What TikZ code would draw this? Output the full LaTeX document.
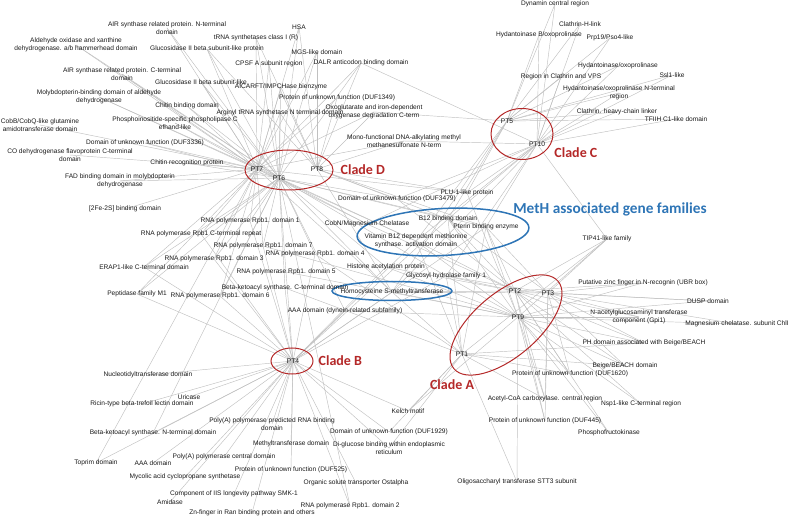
\documentclass[tikz,border=0pt]{standalone}
\usepackage{fontspec}
\setmainfont{Liberation Sans}
\newfontfamily\cladefont{Carlito}
\usetikzlibrary{shapes.geometric, positioning, backgrounds}
\definecolor{cladered}{RGB}{180,40,40}
\definecolor{methblue}{RGB}{46,117,182}
\definecolor{linkgray}{RGB}{192,192,192}
\begin{document}
\begin{tikzpicture}[x=1pt, y=-1pt,
  lab/.style={font=\fontsize{6.6}{7.6}\selectfont, align=center, inner sep=0pt, text=black!90},
  hub/.style={font=\fontsize{6.7}{7.6}\selectfont, inner sep=0pt, text=black!90},
  link/.style={draw=linkgray, line width=0.45pt},
  ring/.style={ellipse, draw=cladered, line width=1pt, inner sep=0pt},
  methring/.style={ellipse, draw=methblue, line width=1.5pt, inner sep=0pt},
  clade/.style={font=\cladefont\bfseries\fontsize{14}{16}\selectfont, text=cladered, inner sep=0pt},
]
  \useasboundingbox (0,0) rectangle (789,518);
  % phylogenetic types
  \node[hub] (pt7) at (257,169) {PT7};
  \node[hub] (pt6) at (279,178) {PT6};
  \node[hub] (pt8) at (317,169) {PT8};
  \node[hub] (pt5) at (507,121) {PT5};
  \node[hub] (pt10) at (537,144) {PT10};
  \node[hub] (pt2) at (515,291) {PT2};
  \node[hub] (pt3) at (548,293) {PT3};
  \node[hub] (pt9) at (518,317) {PT9};
  \node[hub] (pt1) at (462,354) {PT1};
  \node[hub] (pt4) at (293,361) {PT4};
  % clades
  \node[ring, minimum width=88pt, minimum height=40pt] (ringD) at (289,170) {};
  \node[clade, right=7pt of ringD] (cladeD) {Clade D};
  \node[ring, minimum width=62pt, minimum height=51pt] (ringC) at (522,134) {};
  \node[clade, right=10pt of ringC.south east] (cladeC) {Clade C};
  \node[ring, minimum width=42pt, minimum height=26pt] (ringB) at (292,361) {};
  \node[clade, right=5pt of ringB] (cladeB) {Clade B};
  \node[ring, minimum width=136pt, minimum height=64pt, rotate=40] (ringA) at (506,325) {};
  \node[clade] (cladeA) at (452,385) {Clade A};
  \node[methring, minimum width=172pt, minimum height=47pt, rotate=3] (ringM) at (443,232) {};
  \node[methring, minimum width=120pt, minimum height=19pt] (ringH) at (392,291) {};
  \node[clade, text=methblue, font=\cladefont\bfseries\fontsize{15.3}{17}\selectfont] (meth) at (610,209) {MetH associated gene families};
  % gene families
  \node[lab] (airN) at (167,28) {AIR synthase related protein. N-terminal\\domain};
  \node[lab] (aldox) at (76,45) {Aldehyde oxidase and xanthine\\dehydrogenase. a/b hammerhead domain};
  \node[lab] (glucP) at (207,49) {Glucosidase II beta subunit-like protein};
  \node[lab] (trna) at (256,38) {tRNA synthetases class I (R)};
  \node[lab] (hsa) at (299,27) {HSA};
  \node[lab] (mgs) at (317,52) {MGS-like domain};
  \node[lab] (cpsf) at (269,64) {CPSF A subunit region};
  \node[lab] (dalr) at (361,63) {DALR anticodon binding domain};
  \node[lab] (airC) at (122,74) {AIR synthase related protein. C-terminal\\domain};
  \node[lab] (glucL) at (201,82) {Glucosidase II beta subunit-like};
  \node[lab] (aicar) at (281,87) {AICARFT/IMPCHase bienzyme};
  \node[lab] (moly) at (99,97) {Molybdopterin-binding domain of aldehyde\\dehydrogenase};
  \node[lab] (duf1349) at (337,98) {Protein of unknown function (DUF1349)};
  \node[lab] (chitB) at (187,106) {Chitin binding domain};
  \node[lab] (arg) at (280,113) {Arginyl tRNA synthetase N terminal domain};
  \node[lab] (oxo) at (374,112) {Oxoglutarate and iron-dependent\\oxygenase degradation C-term};
  \node[lab] (phos) at (175,123) {Phosphoinositide-specific phospholipase C\\efhand-like};
  \node[lab] (cobb) at (40,125) {CobB/CobQ-like glutamine\\amidotransferase domain};
  \node[lab] (duf3336) at (145,143) {Domain of unknown function (DUF3336)};
  \node[lab] (mono) at (404,141) {Mono-functional DNA-alkylating methyl\\methanesulfonate N-term};
  \node[lab] (codh) at (70,155) {CO dehydrogenase flavoprotein C-terminal\\domain};
  \node[lab] (chitR) at (187,163) {Chitin recognition protein};
  \node[lab] (fad) at (120,181) {FAD binding domain in molybdopterin\\dehydrogenase};
  \node[lab] (fes) at (125,209) {[2Fe-2S] binding domain};
  \node[lab] (rpbA) at (250,221) {RNA polymerase Rpb1. domain 1};
  \node[lab] (rpbCT) at (201,234) {RNA polymerase Rpb1 C-terminal repeat};
  \node[lab] (rpbG) at (263,246) {RNA polymerase Rpb1. domain 7};
  \node[lab] (rpbD) at (315,254) {RNA polymerase Rpb1. domain 4};
  \node[lab] (rpbC) at (214,259) {RNA polymerase Rpb1. domain 3};
  \node[lab] (erap) at (144,267) {ERAP1-like C-terminal domain};
  \node[lab] (rpbE) at (286,272) {RNA polymerase Rpb1. domain 5};
  \node[lab] (bksC) at (285,288) {Beta-ketoacyl synthase. C-terminal domain};
  \node[lab] (pepM) at (137,294) {Peptidase family M1};
  \node[lab] (rpbF) at (220,296) {RNA polymerase Rpb1. domain 6};
  \node[lab] (aaaD) at (345,311) {AAA domain (dynein-related subfamily)};
  \node[lab] (duf3479) at (397,199) {Domain of unknown function (DUF3479)};
  \node[lab] (plu) at (467,193) {PLU-1-like protein};
  \node[lab] (btwelve) at (448,219) {B12 binding domain};
  \node[lab] (pterin) at (486,227) {Pterin binding enzyme};
  \node[lab] (cobn) at (367,224) {CobN/Magnesium Chelatase};
  \node[lab] (vitb) at (416,241) {Vitamin B12 dependent methionine\\synthase. activation domain};
  \node[lab] (hist) at (386,267) {Histone acetylation protein};
  \node[lab] (glyc) at (446,276) {Glycosyl hydrolase family 1};
  \node[lab] (homo) at (392,292) {Homocysteine S-methyltransferase};
  \node[lab] (dyn) at (555,4) {Dynamin central region};
  \node[lab] (clH) at (580,24) {Clathrin-H-link};
  \node[lab] (hydB) at (539,35) {Hydantoinase B/oxoprolinase};
  \node[lab] (prp) at (610,38) {Prp19/Pso4-like};
  \node[lab] (hyd) at (618,66) {Hydantoinase/oxoprolinase};
  \node[lab] (regC) at (561,77) {Region in Clathrin and VPS};
  \node[lab] (ssl) at (672,75) {Ssl1-like};
  \node[lab] (hydN) at (619,93) {Hydantoinase/oxoprolinase N-terminal\\region};
  \node[lab] (clHv) at (617,112) {Clathrin. heavy-chain linker};
  \node[lab] (tfiih) at (676,119) {TFIIH C1-like domain};
  \node[lab] (tip) at (607,239) {TIP41-like family};
  \node[lab] (zinc) at (643,283) {Putative zinc finger in N-recognin (UBR box)};
  \node[lab] (dusp) at (708,301) {DUSP domain};
  \node[lab] (gpi) at (639,317) {N-acetylglucosaminyl transferase\\component (Gpi1)};
  \node[lab] (chli) at (737,324) {Magnesium chelatase. subunit ChlI};
  \node[lab] (phB) at (644,343) {PH domain associated with Beige/BEACH};
  \node[lab] (beige) at (625,366) {Beige/BEACH domain};
  \node[lab] (duf1620) at (570,374) {Protein of unknown function (DUF1620)};
  \node[lab] (acc) at (545,399) {Acetyl-CoA carboxylase. central region};
  \node[lab] (nsp) at (641,404) {Nsp1-like C-terminal region};
  \node[lab] (duf445) at (545,421) {Protein of unknown function (DUF445)};
  \node[lab] (pfk) at (609,433) {Phosphofructokinase};
  \node[lab] (stt) at (517,482) {Oligosaccharyl transferase STT3 subunit};
  \node[lab] (nuc) at (148,375) {Nucleotidyltransferase domain};
  \node[lab] (uric) at (189,397) {Uricase};
  \node[lab] (ricin) at (142,404) {Ricin-type beta-trefoil lectin domain};
  \node[lab] (polyP) at (272,424) {Poly(A) polymerase predicted RNA binding\\domain};
  \node[lab] (bksN) at (153,433) {Beta-ketoacyl synthase. N-terminal domain};
  \node[lab] (methyl) at (291,444) {Methyltransferase domain};
  \node[lab] (duf1929) at (389,432) {Domain of unknown function (DUF1929)};
  \node[lab] (kelch) at (408,411) {Kelch motif};
  \node[lab] (diglc) at (389,448) {Di-glucose binding within endoplasmic\\reticulum};
  \node[lab] (toprim) at (96,463) {Toprim domain};
  \node[lab] (aaa) at (153,463) {AAA domain};
  \node[lab] (polyC) at (224,457) {Poly(A) polymerase central domain};
  \node[lab] (duf525) at (291,470) {Protein of unknown function (DUF525)};
  \node[lab] (myco) at (185,477) {Mycolic acid cyclopropane synthetase};
  \node[lab] (ost) at (356,483) {Organic solute transporter Ostalpha};
  \node[lab] (smk) at (234,494) {Component of IIS longevity pathway SMK-1};
  \node[lab] (amid) at (170,502) {Amidase};
  \node[lab] (rpbB) at (350,506) {RNA polymerase Rpb1. domain 2};
  \node[lab] (znf) at (252,513) {Zn-finger in Ran binding protein and others};
  % links
  \begin{scope}[on background layer]
    \foreach \g/\hs in {
      airN/{pt7,pt6}, aldox/{pt7,pt6}, glucP/{pt7,pt6,pt8}, trna/{pt7,pt6,pt8},
      hsa/{pt7,pt6,pt8}, mgs/{pt7,pt6,pt8}, cpsf/{pt7,pt6}, dalr/{pt7,pt6,pt8,pt10},
      airC/{pt7,pt6}, glucL/{pt7,pt6}, aicar/{pt7,pt6,pt8}, moly/{pt7,pt6},
      duf1349/{pt7,pt8}, chitB/{pt7,pt6}, arg/{pt7,pt6,pt8}, oxo/{pt7,pt8,pt5},
      phos/{pt7,pt6}, cobb/{pt7}, duf3336/{pt7,pt6}, mono/{pt7,pt8,pt10},
      codh/{pt7}, chitR/{pt7,pt6}, fad/{pt7,pt6}, fes/{pt7},
      rpbA/{pt7,pt6,pt4}, rpbCT/{pt7,pt6,pt4}, rpbG/{pt7,pt6,pt4,pt9}, rpbD/{pt6,pt4,pt1},
      rpbC/{pt7,pt6,pt4}, erap/{pt7,pt6,pt4}, rpbE/{pt6,pt4,pt9}, bksC/{pt6,pt4,pt1},
      pepM/{pt7,pt6,pt4}, rpbF/{pt7,pt6,pt4}, aaaD/{pt6,pt4,pt9},
      duf3479/{pt6,pt8,pt10,pt2}, plu/{pt7,pt8,pt5,pt10,pt9},
      btwelve/{pt6,pt8,pt5,pt10,pt2,pt3,pt9,pt1,pt4},
      pterin/{pt6,pt8,pt10,pt2,pt3,pt9,pt1,pt4}, cobn/{pt7,pt6,pt10,pt2},
      vitb/{pt7,pt6,pt5,pt10,pt2,pt9,pt1,pt4}, hist/{pt6,pt4,pt2,pt9},
      glyc/{pt6,pt10,pt2,pt3,pt9,pt1,pt4},
      homo/{pt7,pt6,pt8,pt5,pt10,pt2,pt3,pt9,pt1,pt4},
      dyn/{pt5,pt10}, clH/{pt5,pt10}, hydB/{pt5,pt10}, prp/{pt5,pt10},
      hyd/{pt5,pt10}, regC/{pt5,pt10}, ssl/{pt5,pt10}, hydN/{pt5,pt10},
      clHv/{pt5,pt10}, tfiih/{pt5,pt10},
      tip/{pt10,pt2,pt3,pt9,pt1}, zinc/{pt2,pt3,pt9}, dusp/{pt2,pt3,pt9},
      gpi/{pt2,pt3,pt9}, chli/{pt3,pt9}, phB/{pt2,pt3,pt9,pt1},
      beige/{pt2,pt3,pt9,pt1}, duf1620/{pt2,pt3,pt9,pt1}, acc/{pt2,pt3,pt9,pt1},
      nsp/{pt2,pt9}, duf445/{pt2,pt3,pt9}, pfk/{pt2,pt9}, stt/{pt1,pt9},
      nuc/{pt4}, uric/{pt4}, ricin/{pt4}, polyP/{pt4}, bksN/{pt4,pt6},
      methyl/{pt4}, duf1929/{pt4,pt1}, kelch/{pt4,pt1,pt9}, diglc/{pt4,pt1},
      toprim/{pt4,pt7}, aaa/{pt4}, polyC/{pt4}, duf525/{pt4}, myco/{pt4},
      ost/{pt4}, smk/{pt4}, amid/{pt4}, rpbB/{pt4,pt6}, znf/{pt4}}
      \foreach \h in \hs
        \draw[link] (\g.center) -- (\h.center);
  \end{scope}
\end{tikzpicture}
\end{document}
